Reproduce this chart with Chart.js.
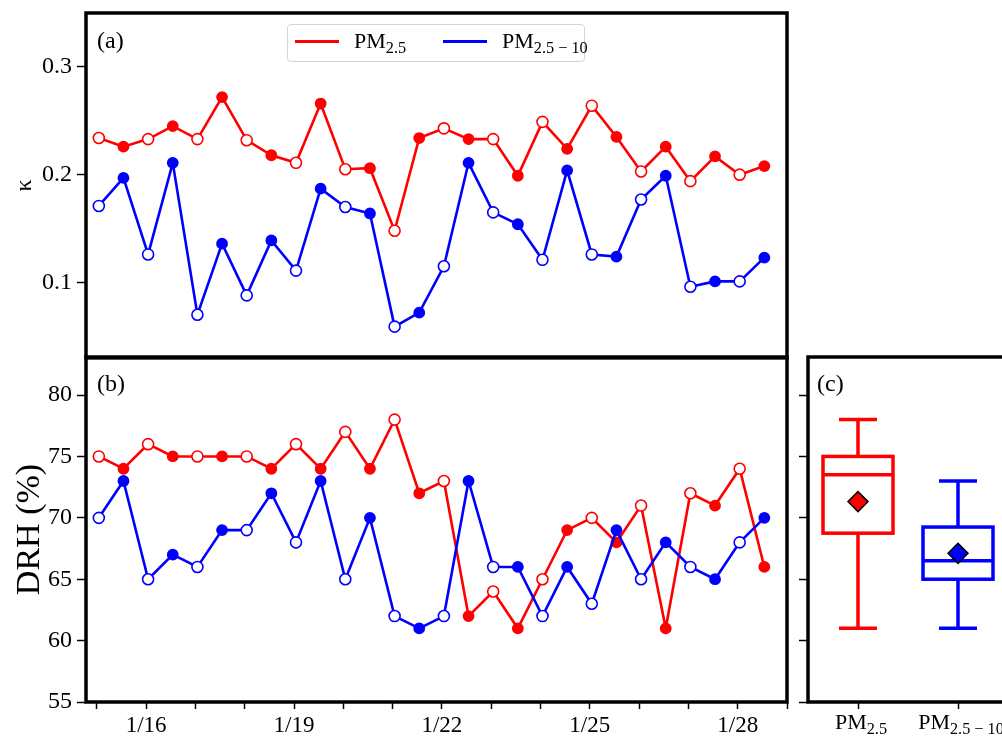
<!DOCTYPE html>
<html>
<head>
<meta charset="utf-8">
<script src="https://cdn.jsdelivr.net/npm/chart.js@4.4.0/dist/chart.umd.min.js"></script>
<style>
  html, body { margin: 0; padding: 0; background: #fff; overflow: hidden; }
  #wrap { position: relative; width: 1002px; height: 742px; overflow: hidden;
          font-family: 'Liberation Serif', 'Times New Roman', serif; color: #000; }
  canvas { position: absolute; }
  .tag { position: absolute; font-size: 24px; line-height: 24px; }
  .sub { font-size: 0.74em; vertical-align: -5px; }
  .legend { position: absolute; left: 287px; top: 24px; width: 296px; height: 36px;
            border: 1.5px solid #d4d4d4; border-radius: 4px; background: rgba(255,255,255,0.85);
            font-size: 22px; z-index: 5; }
  .legend .ln { position: absolute; top: 15px; width: 44px; height: 3px; }
  .legend .tx { position: absolute; top: 4px; line-height: 24px; white-space: nowrap; }
  .xl { position: absolute; top: 710px; font-size: 22px; line-height: 24px;
        transform: translateX(-50%); white-space: nowrap; }
</style>
</head>
<body>
<div id="wrap">
  <canvas id="kappa" width="800" height="365" style="left:0;top:0"></canvas>
  <canvas id="drh" width="800" height="402" style="left:0;top:340px"></canvas>
  <canvas id="box" width="320" height="402" style="left:760px;top:340px"></canvas>

  <div class="tag" style="left:97px;top:28px">(a)</div>
  <div class="tag" style="left:97px;top:371px">(b)</div>
  <div class="tag" style="left:817px;top:371px">(c)</div>

  <div class="legend">
    <div class="ln" style="left:7px;background:#ff0000"></div>
    <div class="tx" style="left:66px">PM<span class="sub">2.5</span></div>
    <div class="ln" style="left:155px;background:#0000ff"></div>
    <div class="tx" style="left:214px">PM<span class="sub">2.5 − 10</span></div>
  </div>

  <div class="xl" style="left:861px">PM<span class="sub">2.5</span></div>
  <div class="xl" style="left:961px">PM<span class="sub">2.5 − 10</span></div>
</div>

<script>
// sampling times (day of January, two samples per day)
const times = [15.04, 15.54, 16.04, 16.54, 17.04, 17.54, 18.04, 18.54, 19.04, 19.54,
               20.04, 20.54, 21.04, 21.54, 22.04, 22.54, 23.04, 23.54, 24.04, 24.54,
               25.04, 25.54, 26.04, 26.54, 27.04, 27.54, 28.04, 28.54];

const kappaPM25 = [0.234, 0.226, 0.233, 0.245, 0.233, 0.272, 0.232, 0.218, 0.211, 0.266,
                   0.205, 0.206, 0.148, 0.234, 0.243, 0.233, 0.233, 0.199, 0.249, 0.224,
                   0.264, 0.235, 0.203, 0.226, 0.194, 0.217, 0.200, 0.208];
const kappaPM2510 = [0.171, 0.197, 0.126, 0.211, 0.070, 0.136, 0.088, 0.139, 0.111, 0.187,
                     0.170, 0.164, 0.059, 0.072, 0.115, 0.211, 0.165, 0.154, 0.121, 0.204,
                     0.126, 0.124, 0.177, 0.199, 0.096, 0.101, 0.101, 0.123];

const drhPM25 = [75, 74, 76, 75, 75, 75, 75, 74, 76, 74, 77, 74, 78, 72, 73, 62, 64, 61, 65, 69,
                 70, 68, 71, 61, 72, 71, 74, 66];
const drhPM2510 = [70, 73, 65, 67, 66, 69, 69, 72, 68, 73, 65, 70, 62, 61, 62, 73, 66, 66, 62, 66,
                   63, 69, 65, 68, 66, 65, 68, 70];

const dayTicks = [15, 16, 17, 18, 19, 20, 21, 22, 23, 24, 25, 26, 27, 28, 29];
const dayLabelAt = [16, 19, 22, 25, 28];
const dayLabels = ['1/16', '1/19', '1/22', '1/25', '1/28'];
const kappaTicks = [0.1, 0.2, 0.3];
const drhTicks = [55, 60, 65, 70, 75, 80];
const boxNames = ['PM2.5', 'PM2.5-10'];

const RED = '#ff0000';
const BLUE = '#0000ff';
const FONT = 'Liberation Serif';

// thick black frame round each panel
const framePlugin = {
  id: 'frame',
  afterDraw(chart) {
    const { ctx, chartArea: a } = chart;
    ctx.save();
    ctx.strokeStyle = '#000';
    ctx.lineWidth = 3.5;
    ctx.strokeRect(a.left, a.top, a.right - a.left, a.bottom - a.top);
    ctx.restore();
  }
};

function series(values, color, order) {
  return {
    data: values.map((v, i) => ({ x: times[i], y: v })),
    borderColor: color,
    borderWidth: 2.6,
    tension: 0,
    order: order,
    pointRadius: ctx => (ctx.dataIndex % 2 ? 5.1 : 5.5),
    pointBorderWidth: 1.6,
    pointBorderColor: color,
    pointBackgroundColor: ctx => (ctx.dataIndex % 2 ? color : '#ffffff')
  };
}

function yAxis(min, max, tickList, fmt, title, titleSize, width) {
  return {
    min: min, max: max,
    afterBuildTicks: s => { s.ticks = tickList.map(v => ({ value: v })); },
    afterFit: s => { s.width = width; s.paddingTop = 0; s.paddingBottom = 0; },
    ticks: { callback: fmt, color: '#000', padding: 5, font: { family: FONT, size: 24 } },
    grid: { drawOnChartArea: false, tickLength: 9, tickColor: '#000', tickWidth: 1.5 },
    border: { display: false },
    title: { display: !!title, text: title, color: '#000',
             font: { family: FONT, size: titleSize }, padding: { top: 10, bottom: 0 } }
  };
}

const common = {
  responsive: false,
  animation: false,
  events: [],
  plugins: { legend: { display: false }, tooltip: { enabled: false } }
};

// (a) kappa
new Chart(document.getElementById('kappa'), {
  type: 'line',
  data: { datasets: [series(kappaPM25, RED, 1), series(kappaPM2510, BLUE, 0)] },
  options: Object.assign({}, common, {
    layout: { padding: { top: 13, right: 13, bottom: 3, left: 0 } },
    scales: {
      x: { type: 'linear', min: 14.78, max: 29.0, display: false },
      y: yAxis(0.03, 0.35, kappaTicks, v => v.toFixed(1), 'κ', 24, 86)
    }
  }),
  plugins: [framePlugin]
});

// (b) DRH time series
new Chart(document.getElementById('drh'), {
  type: 'line',
  data: { datasets: [series(drhPM25, RED, 1), series(drhPM2510, BLUE, 0)] },
  options: Object.assign({}, common, {
    layout: { padding: { top: 17, right: 13, bottom: 0, left: 0 } },
    scales: {
      x: {
        type: 'linear', min: 14.78, max: 29.0,
        afterBuildTicks: s => { s.ticks = dayTicks.map(v => ({ value: v })); },
        afterFit: s => { s.height = 40; s.paddingLeft = 0; s.paddingRight = 0; },
        ticks: {
          autoSkip: false, maxRotation: 0, color: '#000', padding: 3,
          font: { family: FONT, size: 23 },
          callback: v => { const k = dayLabelAt.indexOf(v); return k >= 0 ? dayLabels[k] : ''; }
        },
        grid: { drawOnChartArea: false, tickLength: 7, tickColor: '#000', tickWidth: 1.5 },
        border: { display: false }
      },
      y: yAxis(55, 83.1, drhTicks, v => String(v), 'DRH (%)', 34, 86)
    }
  }),
  plugins: [framePlugin]
});

// (c) box plot of DRH
function quantile(sorted, q) {
  const pos = (sorted.length - 1) * q;
  const lo = Math.floor(pos), hi = Math.ceil(pos);
  return sorted[lo] + (sorted[hi] - sorted[lo]) * (pos - lo);
}
function boxStats(values) {
  const s = values.slice().sort((a, b) => a - b);
  const q1 = quantile(s, 0.25), q3 = quantile(s, 0.75), iqr = q3 - q1;
  const inRange = s.filter(v => v >= q1 - 1.5 * iqr && v <= q3 + 1.5 * iqr);
  return {
    q1: q1, q3: q3, med: quantile(s, 0.5),
    lo: inRange[0], hi: inRange[inRange.length - 1],
    mean: s.reduce((a, b) => a + b, 0) / s.length
  };
}
const stats = [boxStats(drhPM25), boxStats(drhPM2510)];
const boxColors = [RED, BLUE];

const boxPlugin = {
  id: 'boxes',
  beforeDatasetsDraw(chart) {
    const { ctx, scales: { x, y } } = chart;
    ctx.save();
    ctx.lineWidth = 3.5;
    stats.forEach((s, i) => {
      const xc = x.getPixelForValue(i + 1);
      const half = x.getPixelForValue(i + 1.35) - xc;
      const cap = x.getPixelForValue(i + 1.19) - xc;
      const py = v => y.getPixelForValue(v);
      ctx.strokeStyle = boxColors[i];
      ctx.strokeRect(xc - half, py(s.q3), 2 * half, py(s.q1) - py(s.q3));
      ctx.beginPath();
      ctx.moveTo(xc - half, py(s.med)); ctx.lineTo(xc + half, py(s.med));
      ctx.moveTo(xc, py(s.q3)); ctx.lineTo(xc, py(s.hi));
      ctx.moveTo(xc, py(s.q1)); ctx.lineTo(xc, py(s.lo));
      ctx.moveTo(xc - cap, py(s.hi)); ctx.lineTo(xc + cap, py(s.hi));
      ctx.moveTo(xc - cap, py(s.lo)); ctx.lineTo(xc + cap, py(s.lo));
      ctx.stroke();
    });
    ctx.restore();
  }
};

new Chart(document.getElementById('box'), {
  type: 'scatter',
  data: {
    datasets: [{
      data: stats.map((s, i) => ({ x: i + 1, y: s.mean })),
      pointStyle: 'rectRot',
      pointRadius: 10,
      pointBorderWidth: 1.5,
      pointBorderColor: '#000',
      pointBackgroundColor: boxColors
    }]
  },
  options: Object.assign({}, common, {
    layout: { padding: { top: 17, right: 72, bottom: 0, left: 0 } },
    scales: {
      x: {
        type: 'linear', min: 0.5, max: 2.5,
        afterBuildTicks: s => { s.ticks = boxNames.map((n, i) => ({ value: i + 1 })); },
        afterFit: s => { s.height = 40; s.paddingLeft = 0; s.paddingRight = 0; },
        ticks: { callback: () => '', padding: 3 },
        grid: { drawOnChartArea: false, tickLength: 7, tickColor: '#000', tickWidth: 1.5 },
        border: { display: false }
      },
      y: yAxis(55, 83.1, drhTicks, () => '', '', 24, 48)
    }
  }),
  plugins: [framePlugin, boxPlugin]
});
</script>
</body>
</html>
